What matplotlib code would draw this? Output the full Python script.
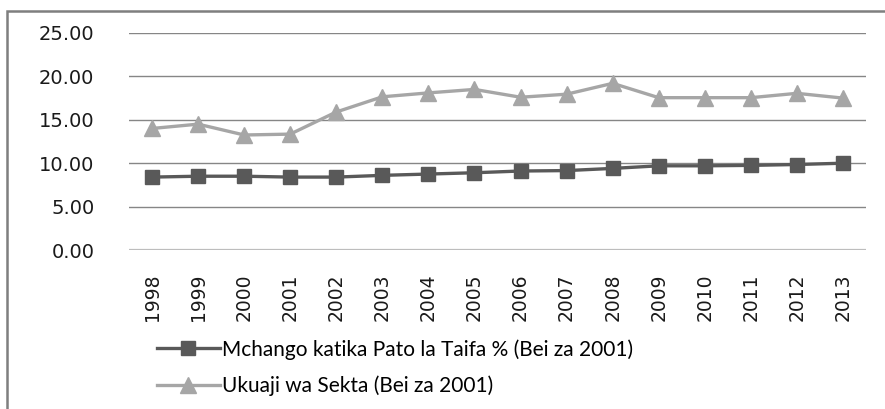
import matplotlib
matplotlib.use("Agg")
import matplotlib.pyplot as plt
from matplotlib.patches import Rectangle

years = ['1998', '1999', '2000', '2001', '2002', '2003', '2004', '2005',
         '2006', '2007', '2008', '2009', '2010', '2011', '2012', '2013']
mchango = [8.40, 8.50, 8.50, 8.40, 8.40, 8.60, 8.75, 8.90,
           9.10, 9.15, 9.40, 9.70, 9.70, 9.75, 9.85, 10.00]
ukuaji = [14.00, 14.50, 13.25, 13.35, 15.90, 17.65, 18.10, 18.50,
          17.60, 17.95, 19.20, 17.55, 17.55, 17.55, 18.05, 17.50]
yticks = [0, 5, 10, 15, 20, 25]

label_1 = 'Mchango katika Pato la Taifa % (Bei za 2001)'
label_2 = 'Ukuaji wa Sekta (Bei za 2001)'

fig = plt.figure(figsize=(8.85, 4.09), dpi=100)
ax = fig.add_axes([129 / 885, 1 - 250 / 409, 737 / 885, 217 / 409])

# outer chart border (cut off on the right and bottom)
fig.patches.append(Rectangle((7 / 885, -0.1), 1.2, 1 - 11 / 409 + 0.1,
                             transform=fig.transFigure, fill=False,
                             edgecolor='#7f7f7f', linewidth=1.8))

x = list(range(len(years)))
ax.plot(x, mchango, color='#595959', linewidth=2.4, marker='s',
        markersize=9.5, label=label_1, zorder=3)
ax.plot(x, ukuaji, color='#a6a6a6', linewidth=2.4, marker='^',
        markersize=11, label=label_2, zorder=3)

ax.set_xlim(-0.5, len(years) - 0.5)
ax.set_ylim(0, 25)
ax.set_yticks(yticks)
ax.set_yticklabels(['%.2f' % v for v in yticks], fontsize=14, color='#1a1a1a')
for v in yticks[1:]:
    ax.axhline(v, color='#868686', linewidth=1.0, zorder=1)
ax.axhline(0, color='#bdbdbd', linewidth=1.6, zorder=1)

ax.set_xticks(x)
ax.set_xticklabels(years, rotation=90, fontsize=13.5, color='#1a1a1a')
ax.tick_params(axis='both', length=0)
ax.tick_params(axis='y', pad=25)
ax.tick_params(axis='x', pad=17)
for s in ax.spines.values():
    s.set_visible(False)

fig.legend(loc='upper left', bbox_to_anchor=(157 / 885, 1 - 339 / 409),
           frameon=False, prop={'family': 'Lato', 'size': 15},
           handlelength=3.0, handletextpad=0.1, labelspacing=0.75,
           borderaxespad=0, borderpad=0)

fig.savefig('out.png', dpi=100)
